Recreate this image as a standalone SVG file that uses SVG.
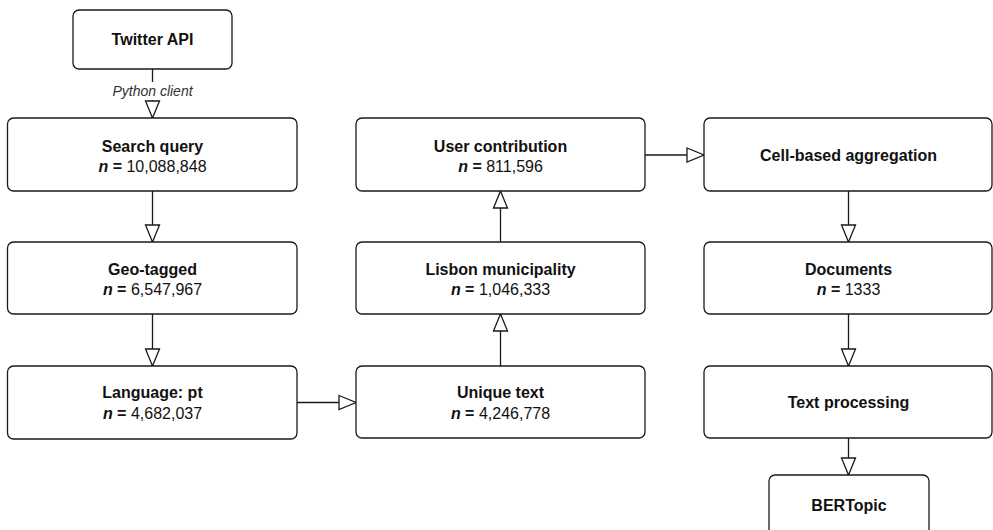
<svg xmlns="http://www.w3.org/2000/svg" width="993" height="530" viewBox="0 0 993 530">
<style>
.box{fill:#fff;stroke:#1a1a1a;stroke-width:1.3}
.t{font-family:"Liberation Sans",Arial,sans-serif;font-size:16px;fill:#111;text-anchor:middle}
.b{font-weight:bold}
.c{fill:none;stroke:#1a1a1a;stroke-width:1.3}
.lbl{font-family:"Liberation Sans",Arial,sans-serif;font-size:14px;font-style:italic;fill:#333;text-anchor:middle}
</style>
<defs>
<marker id="arr" viewBox="-1 -1 19 16" refX="17" refY="7" markerWidth="19" markerHeight="16" markerUnits="userSpaceOnUse" orient="auto" overflow="visible">
<path d="M0,0 L17,7 L0,14 Z" fill="#fff" stroke="#1a1a1a" stroke-width="1.3"/>
</marker>
</defs>
<rect width="993" height="530" fill="#fff"/>
<g id="connectors">
<line class="c" x1="152.5" y1="69" x2="152.5" y2="118" marker-end="url(#arr)"/>
<rect x="110" y="82" width="85" height="18" fill="#fff"/>
<text class="lbl" x="152.5" y="96">Python client</text>
<line class="c" x1="152.5" y1="191" x2="152.5" y2="242" marker-end="url(#arr)"/>
<line class="c" x1="152.5" y1="314" x2="152.5" y2="366" marker-end="url(#arr)"/>
<line class="c" x1="297" y1="402.5" x2="356" y2="402.5" marker-end="url(#arr)"/>
<line class="c" x1="500.5" y1="366" x2="500.5" y2="314" marker-end="url(#arr)"/>
<line class="c" x1="500.5" y1="242" x2="500.5" y2="191" marker-end="url(#arr)"/>
<line class="c" x1="645" y1="155" x2="704" y2="155" marker-end="url(#arr)"/>
<line class="c" x1="848.5" y1="191" x2="848.5" y2="242" marker-end="url(#arr)"/>
<line class="c" x1="848.5" y1="314" x2="848.5" y2="366" marker-end="url(#arr)"/>
<line class="c" x1="848.5" y1="438" x2="848.5" y2="475" marker-end="url(#arr)"/>
</g>
<g id="twitter">
<rect class="box" x="73" y="10" width="159" height="59" rx="6"/>
<text class="t b" x="152.5" y="45">Twitter API</text>
</g>
<g id="search">
<rect class="box" x="7.5" y="118" width="289.5" height="73" rx="6"/>
<text class="t b" x="152.5" y="152">Search query</text>
<text class="t" x="152.5" y="172"><tspan font-weight="bold" font-style="italic">n</tspan><tspan font-weight="bold"> =</tspan> 10,088,848</text>
</g>
<g id="geo">
<rect class="box" x="7.5" y="242" width="289.5" height="72" rx="6"/>
<text class="t b" x="152.5" y="275">Geo-tagged</text>
<text class="t" x="152.5" y="295"><tspan font-weight="bold" font-style="italic">n</tspan><tspan font-weight="bold"> =</tspan> 6,547,967</text>
</g>
<g id="language">
<rect class="box" x="7.5" y="366" width="289.5" height="73" rx="6"/>
<text class="t b" x="152.5" y="398">Language: pt</text>
<text class="t" x="152.5" y="419"><tspan font-weight="bold" font-style="italic">n</tspan><tspan font-weight="bold"> =</tspan> 4,682,037</text>
</g>
<g id="unique">
<rect class="box" x="356" y="366" width="289" height="72" rx="6"/>
<text class="t b" x="500.5" y="398">Unique text</text>
<text class="t" x="500.5" y="419"><tspan font-weight="bold" font-style="italic">n</tspan><tspan font-weight="bold"> =</tspan> 4,246,778</text>
</g>
<g id="lisbon">
<rect class="box" x="356" y="242" width="289" height="72" rx="6"/>
<text class="t b" x="500.5" y="275">Lisbon municipality</text>
<text class="t" x="500.5" y="295"><tspan font-weight="bold" font-style="italic">n</tspan><tspan font-weight="bold"> =</tspan> 1,046,333</text>
</g>
<g id="user">
<rect class="box" x="356" y="118" width="289" height="73" rx="6"/>
<text class="t b" x="500.5" y="152">User contribution</text>
<text class="t" x="500.5" y="172"><tspan font-weight="bold" font-style="italic">n</tspan><tspan font-weight="bold"> =</tspan> 811,596</text>
</g>
<g id="cell">
<rect class="box" x="704" y="118" width="288" height="73" rx="6"/>
<text class="t b" x="848.5" y="161">Cell-based aggregation</text>
</g>
<g id="documents">
<rect class="box" x="704" y="242" width="288" height="72" rx="6"/>
<text class="t b" x="848.5" y="275">Documents</text>
<text class="t" x="848.5" y="295"><tspan font-weight="bold" font-style="italic">n</tspan><tspan font-weight="bold"> =</tspan> 1333</text>
</g>
<g id="textproc">
<rect class="box" x="704" y="366" width="288" height="72" rx="6"/>
<text class="t b" x="848.5" y="408">Text processing</text>
</g>
<g id="bertopic">
<rect class="box" x="769" y="475" width="160" height="62" rx="6"/>
<text class="t b" x="849" y="511">BERTopic</text>
</g>
</svg>
